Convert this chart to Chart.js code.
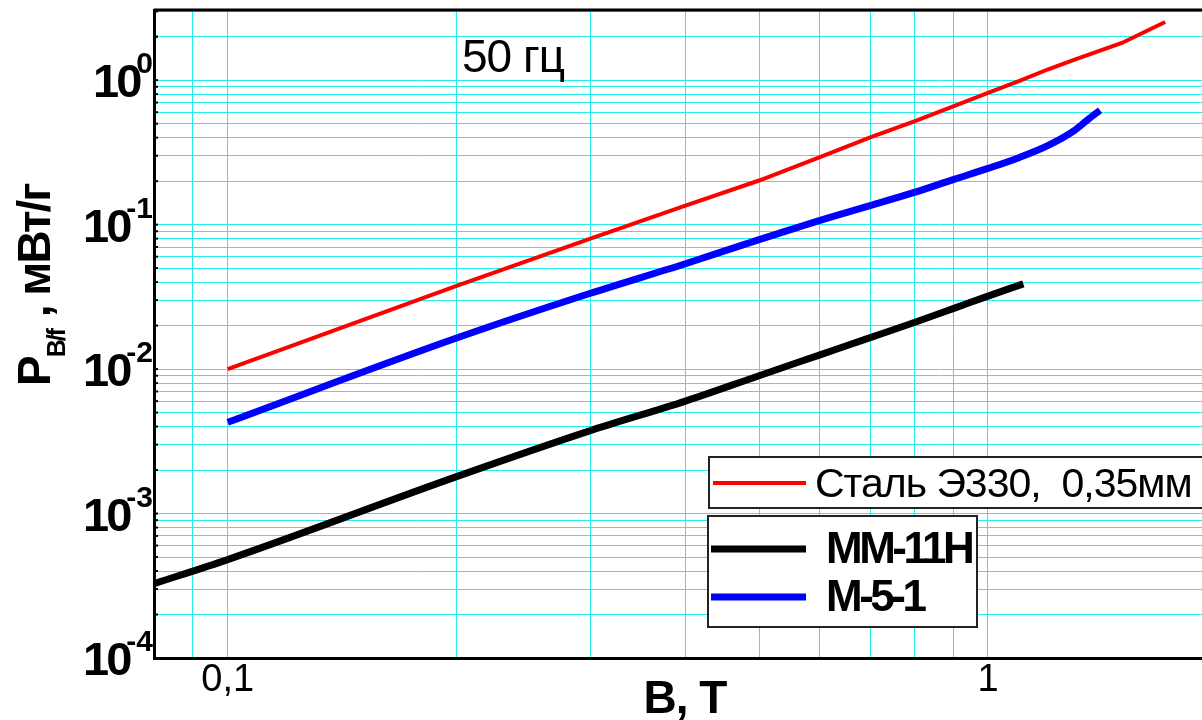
<!DOCTYPE html>
<html>
<head>
<meta charset="utf-8">
<script src="https://cdn.jsdelivr.net/npm/chart.js@4.4.1/dist/chart.umd.min.js"></script>
<style>
html, body { margin: 0; padding: 0; background: #fff; }
#wrap { width: 1202px; height: 720px; }
</style>
</head>
<body>
<div id="wrap"><canvas id="lossChart" width="1202" height="720"></canvas></div>
<script>
// удельные потери P(B/f), мВт/г при 50 гц
const bSteel = [0.1, 0.2, 0.3, 0.4, 0.5, 0.6, 0.7, 0.8, 0.9, 1.0, 1.1, 1.2, 1.3, 1.5, 1.71];
const pSteel = [0.0100, 0.0377, 0.080, 0.1355, 0.202, 0.292, 0.402, 0.519, 0.659, 0.817, 0.99, 1.19, 1.39, 1.81, 2.53];

const bMM11 = [0.08, 0.1, 0.2, 0.3, 0.4, 0.5, 0.6, 0.7, 0.8, 0.9, 1.0, 1.113];
const pMM11 = [0.000327, 0.00048, 0.0018, 0.00375, 0.0060, 0.0090, 0.0125, 0.0165, 0.021, 0.0262, 0.032, 0.0389];

const bM51 = [0.1, 0.2, 0.3, 0.4, 0.5, 0.6, 0.7, 0.8, 0.9, 1.0, 1.1, 1.2, 1.3, 1.35, 1.404];
const pM51 = [0.00428, 0.0164, 0.0335, 0.0536, 0.0787, 0.1067, 0.1355, 0.167, 0.205, 0.245, 0.292, 0.354, 0.45, 0.528, 0.619];

const seriesNames = ["Сталь Э330,  0,35мм", "ММ-11Н", "М-5-1"];
const seriesColors = ["#ff0000", "#000000", "#0000ff"];

// сетка и подписи осей
const xGrid = [0.08, 0.09, 0.1, 0.2, 0.3, 0.4, 0.5, 0.6, 0.7, 0.8, 0.9, 1];
const xLabelValues = [0.1, 1];
const xLabelTexts = ["0,1", "1"];
const yDecades = [-4, -3, -2, -1, 0];
const yMantissas = [1, 2, 3, 4, 5, 6, 7, 8, 9];
const yLabelExps = ["-4", "-3", "-2", "-1", "0"];

const yGrid = [];
yDecades.forEach(e => yMantissas.forEach(m => {
    const v = m * Math.pow(10, e);
    if (v <= 3.06) yGrid.push(v);
}));
yGrid.push(2, 3);

const toPoints = (xs, ys) => xs.map((x, i) => ({ x: x, y: ys[i] }));

const FONT = "'Liberation Sans', Arial, sans-serif";

const overlay = {
    id: "overlay",
    afterDatasetsDraw(chart) {
        const ctx = chart.ctx;
        const a = chart.chartArea;
        ctx.save();
        // верхняя рамка
        ctx.strokeStyle = "#000";
        ctx.lineWidth = 3;
        ctx.beginPath();
        ctx.moveTo(a.left, a.top);
        ctx.lineTo(chart.width, a.top);
        ctx.stroke();
        // маленькие риски внутри
        ctx.lineWidth = 2;
        chart.scales.y.ticks.forEach(t => {
            const py = chart.scales.y.getPixelForValue(t.value);
            ctx.beginPath();
            ctx.moveTo(a.left, py);
            ctx.lineTo(a.left + 4, py);
            ctx.stroke();
        });
        ctx.restore();
    },
    afterDraw(chart) {
        const ctx = chart.ctx;
        const a = chart.chartArea;
        const ys = chart.scales.y;
        ctx.save();
        ctx.fillStyle = "#000";

        // подписи оси Y: 10^n
        ctx.textAlign = "right";
        ctx.textBaseline = "alphabetic";
        yDecades.forEach((e, i) => {
            const py = ys.getPixelForValue(Math.pow(10, e));
            ctx.letterSpacing = "0px";
            ctx.font = "bold 30px " + FONT;
            const expW = ctx.measureText(yLabelExps[i]).width;
            ctx.fillText(yLabelExps[i], a.left - 1, py - 7);
            ctx.font = "bold 47px " + FONT;
            ctx.letterSpacing = "-3px";
            ctx.fillText("10", a.left - expW + 2, py + 17);
        });

        // заголовок оси Y
        ctx.save();
        ctx.translate(50, 386);
        ctx.rotate(-Math.PI / 2);
        ctx.textAlign = "left";
        ctx.letterSpacing = "-2px";
        ctx.font = "bold 46px " + FONT;
        ctx.fillText("P", 0, 0);
        let off = ctx.measureText("P").width;
        ctx.font = "bold 25px " + FONT;
        ctx.fillText("B/f", off, 15);
        off += ctx.measureText("B/f").width + 2;
        ctx.font = "bold 46px " + FONT;
        ctx.fillText(" , мВт/г", off, 0);
        ctx.restore();

        // заголовок оси X
        ctx.textAlign = "center";
        ctx.letterSpacing = "-1px";
        ctx.font = "bold 46px " + FONT;
        ctx.fillText("B, T", 685, 713);

        // частота
        ctx.textAlign = "left";
        ctx.letterSpacing = "-1px";
        ctx.font = "46px " + FONT;
        ctx.fillText("50 гц", 462, 72);

        // легенда 1
        ctx.fillStyle = "#fff";
        ctx.fillRect(709, 457, 520, 51);
        ctx.strokeStyle = "#222";
        ctx.lineWidth = 2;
        ctx.strokeRect(709, 457, 520, 51);
        ctx.strokeStyle = seriesColors[0];
        ctx.lineWidth = 4;
        ctx.beginPath();
        ctx.moveTo(713, 483);
        ctx.lineTo(806, 483);
        ctx.stroke();
        ctx.fillStyle = "#000";
        ctx.font = "41px " + FONT;
        ctx.letterSpacing = "-1px";
        ctx.fillText(seriesNames[0], 815, 497);

        // легенда 2
        ctx.fillStyle = "#fff";
        ctx.fillRect(708, 516, 269, 111);
        ctx.strokeStyle = "#222";
        ctx.lineWidth = 2;
        ctx.strokeRect(708, 516, 269, 111);
        [[1, 549, 563], [2, 597, 611]].forEach(([k, ly, ty]) => {
            ctx.strokeStyle = seriesColors[k];
            ctx.lineWidth = 7;
            ctx.beginPath();
            ctx.moveTo(711, ly);
            ctx.lineTo(806, ly);
            ctx.stroke();
            ctx.fillStyle = "#000";
            ctx.font = "bold 44px " + FONT;
            ctx.letterSpacing = "-3.5px";
            ctx.fillText(seriesNames[k], 826, ty);
        });
        ctx.restore();
    }
};

const ctx = document.getElementById("lossChart").getContext("2d");

new Chart(ctx, {
    type: "line",
    data: {
        datasets: [
            {
                label: seriesNames[0],
                data: toPoints(bSteel, pSteel),
                borderColor: seriesColors[0],
                borderWidth: 4,
                pointRadius: 0,
                tension: 0
            },
            {
                label: seriesNames[1],
                data: toPoints(bMM11, pMM11),
                borderColor: seriesColors[1],
                borderWidth: 7,
                pointRadius: 0,
                cubicInterpolationMode: "monotone"
            },
            {
                label: seriesNames[2],
                data: toPoints(bM51, pM51),
                borderColor: seriesColors[2],
                borderWidth: 7,
                pointRadius: 0,
                cubicInterpolationMode: "monotone"
            }
        ]
    },
    options: {
        responsive: false,
        animation: false,
        events: [],
        layout: { padding: { left: 0, right: 0, top: 10, bottom: 0 } },
        plugins: {
            legend: { display: false },
            tooltip: { enabled: false }
        },
        scales: {
            x: {
                type: "logarithmic",
                min: 0.08,
                max: 1.912,
                afterBuildTicks: (scale) => { scale.ticks = xGrid.map(v => ({ value: v })); },
                afterFit: (scale) => { scale.height = 62; },
                ticks: {
                    autoSkip: false,
                    maxRotation: 0,
                    minRotation: 0,
                    padding: 0,
                    color: "#000",
                    font: { family: FONT, size: 38 },
                    callback: function (value) {
                        const i = xLabelValues.findIndex(v => Math.abs(v - value) < 1e-9);
                        return i >= 0 ? xLabelTexts[i] : "";
                    }
                },
                grid: { color: "#22eeee", lineWidth: 1, drawTicks: false },
                border: { color: "#000", width: 3 }
            },
            y: {
                type: "logarithmic",
                min: 0.0001,
                max: 3.06,
                afterBuildTicks: (scale) => { scale.ticks = yGrid.map(v => ({ value: v })); },
                afterFit: (scale) => { scale.width = 154; },
                ticks: { display: false },
                grid: { color: "#22eeee", lineWidth: 1, drawTicks: false },
                border: { color: "#000", width: 3 }
            }
        }
    },
    plugins: [overlay]
});
</script>
</body>
</html>
